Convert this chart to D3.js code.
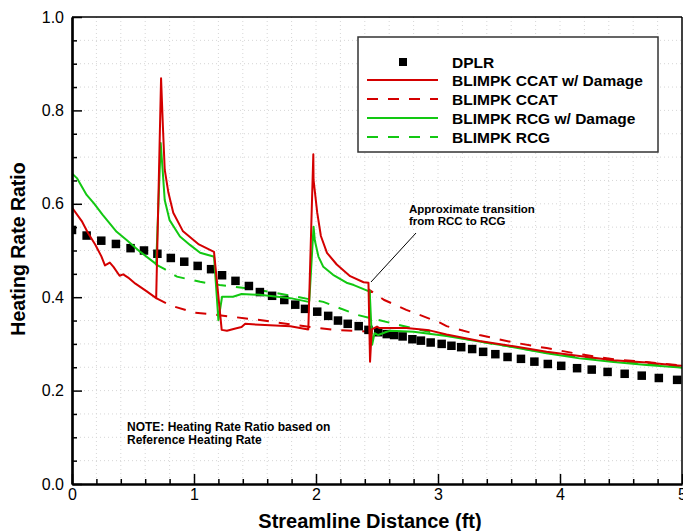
<!DOCTYPE html>
<html>
<head>
<meta charset="utf-8">
<script src="https://cdn.jsdelivr.net/npm/d3@7"></script>
<style>
  html, body { margin: 0; padding: 0; background: #fff; }
  svg { display: block; font-family: "Liberation Sans", Arial, sans-serif; }
</style>
</head>
<body>
<svg id="chart" width="683" height="531"></svg>
<script>
// ---------------- DATA ----------------
const xTickLabels = ["0", "1", "2", "3", "4", "5"];
const yTickLabels = ["0.0", "0.2", "0.4", "0.6", "0.8", "1.0"];
const seriesNames = ["DPLR", "BLIMPK CCAT w/ Damage", "BLIMPK CCAT", "BLIMPK RCG w/ Damage", "BLIMPK RCG"];

const dplrX = [0.0,0.12,0.24,0.36,0.48,0.59,0.70,0.81,0.92,1.03,1.14,1.23,1.34,1.45,1.54,1.64,1.74,1.83,1.91,2.01,
               2.10,2.18,2.26,2.35,2.43,2.51,2.58,2.64,2.71,2.79,2.86,2.94,3.03,3.11,3.19,3.28,3.37,3.47,3.57,3.68,
               3.79,3.90,4.01,4.14,4.26,4.39,4.53,4.67,4.81,4.96];
const dplrY = [0.544,0.532,0.521,0.514,0.505,0.500,0.493,0.484,0.476,0.467,0.460,0.447,0.435,0.424,0.411,0.403,0.394,0.384,0.375,0.369,
               0.360,0.350,0.343,0.338,0.330,0.325,0.321,0.319,0.316,0.310,0.307,0.303,0.300,0.296,0.293,0.289,0.283,0.278,0.272,0.268,
               0.262,0.257,0.253,0.248,0.245,0.240,0.236,0.232,0.227,0.223];

const ccatDmgX = [0.00,0.08,0.13,0.19,0.24,0.27,0.31,0.34,0.39,0.42,0.46,0.52,0.61,0.69,0.73,0.745,0.76,0.79,0.83,0.91,1.04,1.164,
                  1.227,1.27,1.34,1.39,1.42,1.54,1.79,1.937,1.978,1.98,2.01,2.04,2.09,2.17,2.28,2.39,2.43,2.443,2.457,2.50,2.52,
                  2.58,2.74,2.93,3.07,3.34,3.62,3.89,4.16,4.44,4.71,4.96,5.0];
const ccatDmgY = [0.592,0.563,0.538,0.513,0.488,0.468,0.474,0.465,0.446,0.449,0.442,0.429,0.413,0.398,0.869,0.766,0.673,0.624,0.581,0.541,0.513,0.497,
                  0.330,0.328,0.333,0.336,0.343,0.341,0.338,0.331,0.706,0.651,0.581,0.531,0.495,0.470,0.445,0.432,0.431,0.262,0.331,0.337,0.334,
                  0.334,0.334,0.329,0.320,0.306,0.295,0.283,0.274,0.265,0.260,0.254,0.253];

const ccatX = [0.69,0.80,1.00,1.19,1.41,1.54,1.84,2.15,2.44,2.44,2.56,2.74,3.02,3.07,3.34,3.62,3.89,4.16,4.44,4.71,4.96,5.0];
const ccatY = [0.398,0.383,0.367,0.362,0.355,0.351,0.340,0.330,0.326,0.415,0.394,0.373,0.345,0.338,0.319,0.303,0.291,0.278,0.267,0.261,0.255,0.254];

const rcgDmgX = [0.00,0.04,0.08,0.12,0.18,0.25,0.366,0.45,0.56,0.68,0.69,0.727,0.743,0.76,0.80,0.885,0.967,1.05,1.16,1.164,1.20,1.23,
                 1.32,1.39,1.54,1.79,1.94,1.945,1.98,1.99,2.02,2.06,2.14,2.25,2.31,2.42,2.44,2.46,2.48,2.51,2.58,2.61,2.80,3.07,
                 3.34,3.62,3.89,4.16,4.44,4.71,4.96,5.0];
const rcgDmgY = [0.665,0.655,0.637,0.619,0.601,0.577,0.540,0.522,0.497,0.473,0.470,0.730,0.672,0.608,0.565,0.530,0.512,0.495,0.487,0.488,0.351,0.401,
                 0.401,0.407,0.405,0.398,0.390,0.392,0.551,0.522,0.487,0.465,0.448,0.431,0.426,0.414,0.414,0.298,0.323,0.319,0.326,0.328,0.326,0.317,
                 0.305,0.293,0.280,0.269,0.261,0.255,0.250,0.249];

const rcgX = [0.69,0.76,0.86,1.05,1.21,1.43,1.54,1.80,2.06,2.34,2.45,2.61,2.80,3.07,3.34,3.62,3.89,4.16,4.44,4.71,4.96,5.0];
const rcgY = [0.470,0.460,0.444,0.433,0.426,0.419,0.415,0.403,0.390,0.362,0.355,0.345,0.333,0.318,0.305,0.293,0.281,0.272,0.263,0.257,0.251,0.250];

const noteLines = ["NOTE: Heating Rate Ratio based on", "Reference Heating Rate"];
const transitionLines = ["Approximate transition", "from RCC to RCG"];

// ---------------- CHART ----------------
const RED = "#d40000", GREEN = "#12c812";
const svg = d3.select("#chart");
const pL = 72, pR = 682, pT = 17, pB = 484;

const x = d3.scaleLinear().domain([0, 5]).range([pL, pR]);
const y = d3.scaleLinear().domain([0, 1]).range([pB, pT]);

const zip = (xs, ys) => xs.map((v, i) => [v, ys[i]]);

// faint dotted grid
const grid = svg.append("g").attr("stroke", "#d6d6d6").attr("stroke-width", 1).attr("stroke-dasharray", "1,3");
d3.range(1, 25).map(i => i * 0.2).forEach(v => grid.append("line")
  .attr("x1", x(v)).attr("x2", x(v)).attr("y1", pT).attr("y2", pB));
d3.range(1, 20).map(i => i * 0.05).forEach(v => grid.append("line")
  .attr("x1", pL).attr("x2", pR).attr("y1", y(v)).attr("y2", y(v)));

// clip
svg.append("clipPath").attr("id", "clip").append("rect")
  .attr("x", pL).attr("y", pT).attr("width", pR - pL).attr("height", pB - pT);

const line = d3.line().x(d => x(d[0])).y(d => y(d[1]));
const plot = svg.append("g").attr("clip-path", "url(#clip)");

// dashed undamaged curves
plot.append("path").datum(zip(ccatX, ccatY)).attr("d", line)
  .attr("fill", "none").attr("stroke", RED).attr("stroke-width", 2).attr("stroke-dasharray", "11,10");
plot.append("path").datum(zip(rcgX, rcgY)).attr("d", line)
  .attr("fill", "none").attr("stroke", GREEN).attr("stroke-width", 2).attr("stroke-dasharray", "11,10");

// DPLR squares
const sq = 8.5;
plot.selectAll("rect.dplr").data(zip(dplrX, dplrY)).enter().append("rect")
  .attr("class", "dplr")
  .attr("x", d => x(d[0]) - sq / 2).attr("y", d => y(d[1]) - sq / 2)
  .attr("width", sq).attr("height", sq).attr("fill", "#000");

// solid damaged curves
plot.append("path").datum(zip(rcgDmgX, rcgDmgY)).attr("d", line)
  .attr("fill", "none").attr("stroke", GREEN).attr("stroke-width", 2).attr("stroke-linejoin", "round");
plot.append("path").datum(zip(ccatDmgX, ccatDmgY)).attr("d", line)
  .attr("fill", "none").attr("stroke", RED).attr("stroke-width", 2).attr("stroke-linejoin", "round");

// frame top/right
svg.append("line").attr("x1", pL).attr("x2", pR).attr("y1", pT).attr("y2", pT)
  .attr("stroke", "#000").attr("stroke-width", 1.5);
svg.append("line").attr("x1", pR).attr("x2", pR).attr("y1", pT).attr("y2", pB)
  .attr("stroke", "#000").attr("stroke-width", 1.5);

// axes
const xMajor = d3.range(0, 6, 1);
const yMajor = d3.range(0, 6).map(i => i * 0.2);
const xMinor = d3.range(0, 26).map(i => i * 0.2).filter(v => Math.abs(v - Math.round(v)) > 1e-6);
const yMinor = d3.range(0, 21).map(i => i * 0.05).filter(v => Math.abs(v * 5 - Math.round(v * 5)) > 1e-6);

const gx = svg.append("g").attr("transform", `translate(0,${pB})`)
  .call(d3.axisBottom(x).tickValues(xMajor).tickSizeInner(-10).tickSizeOuter(0).tickPadding(5)
    .tickFormat((d, i) => xTickLabels[i]));
const gxm = svg.append("g").attr("transform", `translate(0,${pB})`)
  .call(d3.axisBottom(x).tickValues(xMinor).tickSizeInner(-5).tickSizeOuter(0).tickFormat(""));
const gy = svg.append("g").attr("transform", `translate(${pL},0)`)
  .call(d3.axisLeft(y).tickValues(yMajor).tickSizeInner(-10).tickSizeOuter(0).tickPadding(8)
    .tickFormat((d, i) => yTickLabels[i]));
const gym = svg.append("g").attr("transform", `translate(${pL},0)`)
  .call(d3.axisLeft(y).tickValues(yMinor).tickSizeInner(-5).tickSizeOuter(0).tickFormat(""));

[gx, gxm, gy, gym].forEach(g => {
  g.select(".domain").attr("stroke", "#000").attr("stroke-width", 2.2);
  g.selectAll(".tick line").attr("stroke", "#000").attr("stroke-width", 1.5);
});
[gx, gy].forEach(g => g.selectAll(".tick text")
  .attr("font-family", "Liberation Sans, Arial, sans-serif").attr("font-size", 16).attr("fill", "#000"));

// axis titles
svg.append("text").attr("x", 370).attr("y", 528).attr("text-anchor", "middle")
  .attr("font-size", 20).attr("font-weight", "bold").text("Streamline Distance (ft)");
svg.append("text").attr("transform", "translate(25,249) rotate(-90)").attr("text-anchor", "middle")
  .attr("font-size", 19.5).attr("font-weight", "bold").text("Heating Rate Ratio");

// legend
const lg = svg.append("g");
lg.append("rect").attr("x", 358).attr("y", 37).attr("width", 300).attr("height", 115)
  .attr("fill", "#fff").attr("stroke", "#333").attr("stroke-width", 1.5);
const legY = [62, 80, 99, 118, 137];
const legStyle = [
  { type: "sq" },
  { color: RED, dash: null },
  { color: RED, dash: "11,10" },
  { color: GREEN, dash: null },
  { color: GREEN, dash: "11,10" }
];
seriesNames.forEach((name, i) => {
  const st = legStyle[i];
  if (st.type === "sq") {
    lg.append("rect").attr("x", 403 - 4).attr("y", legY[i] - 4).attr("width", 8).attr("height", 8).attr("fill", "#000");
  } else {
    lg.append("line").attr("x1", 367).attr("x2", 438).attr("y1", legY[i]).attr("y2", legY[i])
      .attr("stroke", st.color).attr("stroke-width", 2).attr("stroke-dasharray", st.dash);
  }
  lg.append("text").attr("x", 452).attr("y", legY[i] + 5.5)
    .attr("font-size", 15.5).attr("font-weight", "bold").text(name);
});

// transition annotation
svg.append("line").attr("x1", 416).attr("y1", 233).attr("x2", 371).attr("y2", 282)
  .attr("stroke", "#000").attr("stroke-width", 1);
transitionLines.forEach((t, i) => svg.append("text").attr("x", 409).attr("y", 213 + i * 11.5)
  .attr("font-size", 11.5).attr("font-weight", "bold").text(t));

// note
noteLines.forEach((t, i) => svg.append("text").attr("x", 127).attr("y", 431 + i * 12.5)
  .attr("font-size", 12).attr("font-weight", "bold").text(t));
</script>
</body>
</html>
